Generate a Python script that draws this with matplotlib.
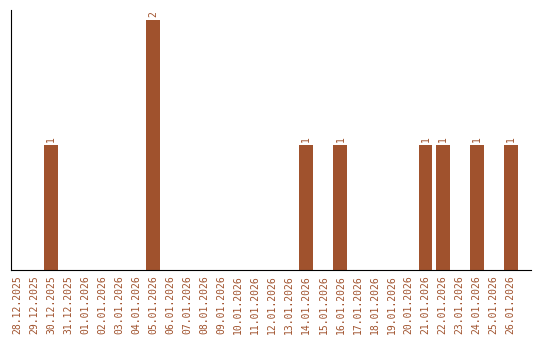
import matplotlib
matplotlib.use("Agg")
import matplotlib.pyplot as plt
import pandas as pd

dates = pd.date_range("2025-12-28", "2026-01-26", freq="D")
labels = [d.strftime("%d.%m.%Y") for d in dates]
counts_by_day = {
    "30.12.2025": 1,
    "05.01.2026": 2,
    "14.01.2026": 1,
    "16.01.2026": 1,
    "21.01.2026": 1,
    "22.01.2026": 1,
    "24.01.2026": 1,
    "26.01.2026": 1,
}
counts = [counts_by_day.get(l, 0) for l in labels]

brown = "#A0522D"
fig = plt.figure(figsize=(5.4, 3.4), dpi=100)
ax = fig.add_axes([0.0204, 0.206, 0.963, 0.765])

x = list(range(len(labels)))
bars = ax.bar(x, counts, width=0.82, color=brown)
for b, c in zip(bars, counts):
    if c > 0:
        ax.text(b.get_x() + b.get_width() / 2, c + 0.02, str(c), rotation=90,
                ha="center", va="bottom", color=brown, fontsize=7,
                family="DejaVu Sans Mono")

ax.set_xlim(-0.35, 30.2)
ax.set_ylim(0, 2.08)
ax.set_xticks(x)
ax.set_xticklabels(labels, rotation=90, fontsize=7, color=brown,
                   family="DejaVu Sans Mono")
ax.tick_params(axis="x", length=0, pad=4)
ax.set_yticks([])
ax.spines["top"].set_visible(False)
ax.spines["right"].set_visible(False)

fig.savefig("out.png", dpi=100)
